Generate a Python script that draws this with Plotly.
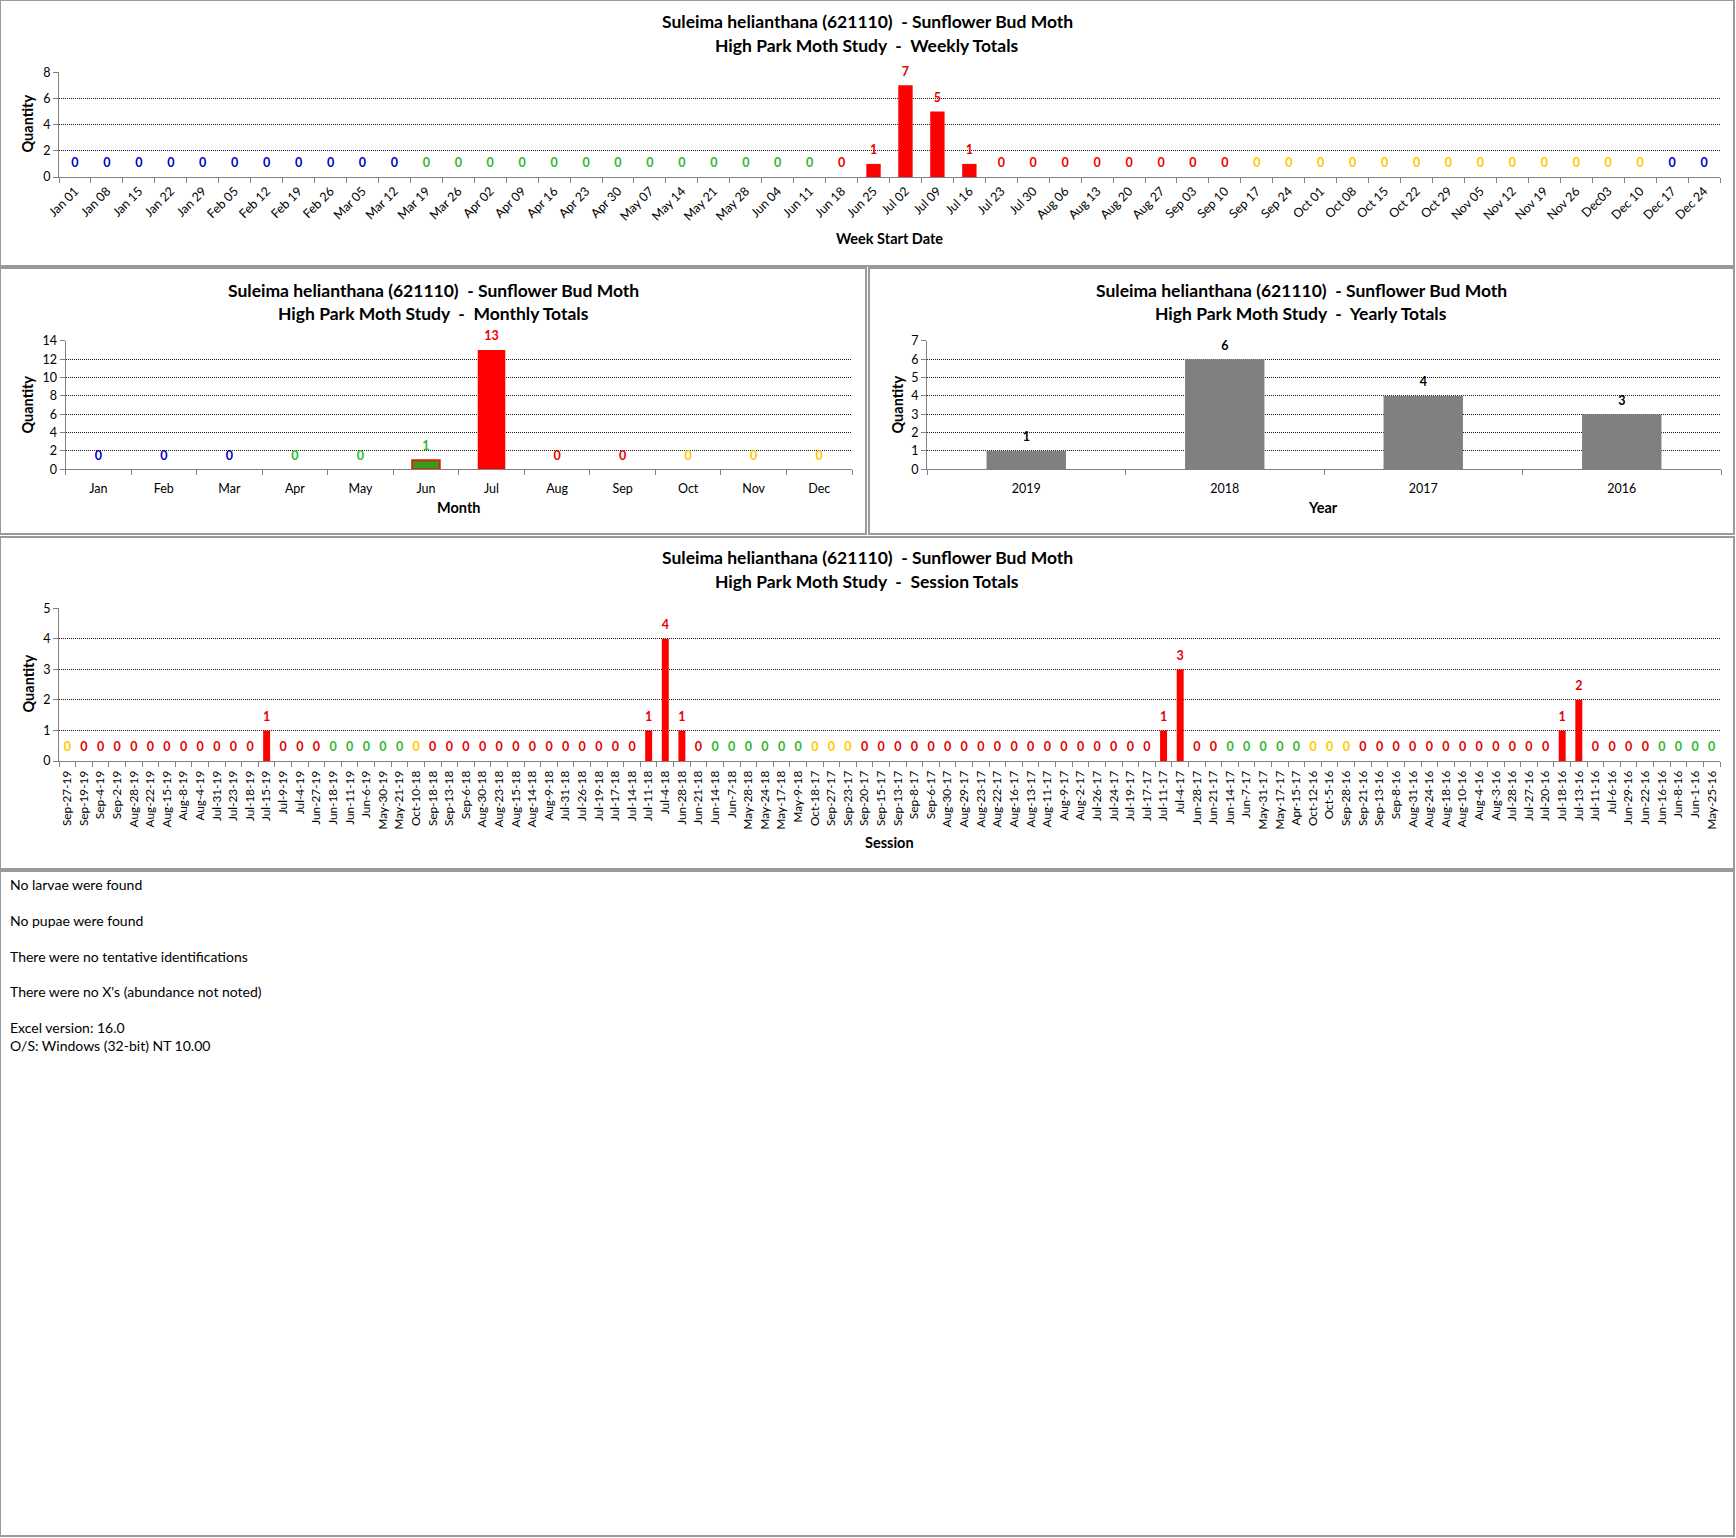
import plotly.graph_objects as go

# page size (the reference screenshot)
W, H = 1736, 1538

title_line1 = "Suleima helianthana (621110)  - Sunflower Bud Moth"
title_weekly = "High Park Moth Study  -  Weekly Totals"
title_monthly = "High Park Moth Study  -  Monthly Totals"
title_yearly = "High Park Moth Study  -  Yearly Totals"
title_session = "High Park Moth Study  -  Session Totals"

# ---------------- data ----------------
week_labels = ["Jan 01", "Jan 08", "Jan 15", "Jan 22", "Jan 29", "Feb 05", "Feb 12", "Feb 19", "Feb 26",
               "Mar 05", "Mar 12", "Mar 19", "Mar 26", "Apr 02", "Apr 09", "Apr 16", "Apr 23", "Apr 30",
               "May 07", "May 14", "May 21", "May 28", "Jun 04", "Jun 11", "Jun 18", "Jun 25", "Jul 02",
               "Jul 09", "Jul 16", "Jul 23", "Jul 30", "Aug 06", "Aug 13", "Aug 20", "Aug 27", "Sep 03",
               "Sep 10", "Sep 17", "Sep 24", "Oct 01", "Oct 08", "Oct 15", "Oct 22", "Oct 29", "Nov 05",
               "Nov 12", "Nov 19", "Nov 26", "Dec03", "Dec 10", "Dec 17", "Dec 24"]
week_values = [0, 0, 0, 0, 0, 0, 0, 0, 0, 0, 0, 0, 0, 0, 0, 0, 0, 0, 0, 0, 0, 0, 0, 0, 0, 1,
               7, 5, 1, 0, 0, 0, 0, 0, 0, 0, 0, 0, 0, 0, 0, 0, 0, 0, 0, 0, 0, 0, 0, 0, 0, 0]
# season code per week: B = winter, G = spring, R = summer, Y = fall
week_season = list("BBBBBBBBBBBGGGGGGGGGGGGGRRRRRRRRRRRRRYYYYYYYYYYYYYBB")

month_labels = ["Jan", "Feb", "Mar", "Apr", "May", "Jun", "Jul", "Aug", "Sep", "Oct", "Nov", "Dec"]
month_values = [0, 0, 0, 0, 0, 1, 13, 0, 0, 0, 0, 0]
month_season = list("BBBGGGRRRYYY")

year_labels = ["2019", "2018", "2017", "2016"]
year_values = [1, 6, 4, 3]

session_labels = [
    "Sep-27-19", "Sep-19-19", "Sep-4-19", "Sep-2-19", "Aug-28-19", "Aug-22-19", "Aug-15-19", "Aug-8-19",
    "Aug-4-19", "Jul-31-19", "Jul-23-19", "Jul-18-19", "Jul-15-19", "Jul-9-19", "Jul-4-19", "Jun-27-19",
    "Jun-18-19", "Jun-11-19", "Jun-6-19", "May-30-19", "May-21-19",
    "Oct-10-18", "Sep-18-18", "Sep-13-18", "Sep-6-18", "Aug-30-18", "Aug-23-18", "Aug-15-18", "Aug-14-18",
    "Aug-9-18", "Jul-31-18", "Jul-26-18", "Jul-19-18", "Jul-17-18", "Jul-14-18", "Jul-11-18", "Jul-4-18",
    "Jun-28-18", "Jun-21-18", "Jun-14-18", "Jun-7-18", "May-28-18", "May-24-18", "May-17-18", "May-9-18",
    "Oct-18-17", "Sep-27-17", "Sep-23-17", "Sep-20-17", "Sep-15-17", "Sep-13-17", "Sep-8-17", "Sep-6-17",
    "Aug-30-17", "Aug-29-17", "Aug-23-17", "Aug-22-17", "Aug-16-17", "Aug-13-17", "Aug-11-17", "Aug-9-17",
    "Aug-2-17", "Jul-26-17", "Jul-24-17", "Jul-19-17", "Jul-17-17", "Jul-11-17", "Jul-4-17", "Jun-28-17",
    "Jun-21-17", "Jun-14-17", "Jun-7-17", "May-31-17", "May-17-17", "Apr-15-17",
    "Oct-12-16", "Oct-5-16", "Sep-28-16", "Sep-21-16", "Sep-13-16", "Sep-8-16", "Aug-31-16", "Aug-24-16",
    "Aug-18-16", "Aug-10-16", "Aug-4-16", "Aug-3-16", "Jul-28-16", "Jul-27-16", "Jul-20-16", "Jul-18-16",
    "Jul-13-16", "Jul-11-16", "Jul-6-16", "Jun-29-16", "Jun-22-16", "Jun-16-16", "Jun-8-16", "Jun-1-16",
    "May-25-16"]
session_values = [
    0, 0, 0, 0, 0, 0, 0, 0, 0, 0, 0, 0, 1, 0, 0, 0, 0, 0, 0, 0, 0,                    # 2019
    0, 0, 0, 0, 0, 0, 0, 0, 0, 0, 0, 0, 0, 0, 1, 4, 1, 0, 0, 0, 0, 0, 0, 0,           # 2018
    0, 0, 0, 0, 0, 0, 0, 0, 0, 0, 0, 0, 0, 0, 0, 0, 0, 0, 0, 0, 0, 1, 3, 0, 0, 0, 0, 0, 0, 0,  # 2017
    0, 0, 0, 0, 0, 0, 0, 0, 0, 0, 0, 0, 0, 0, 0, 1, 2, 0, 0, 0, 0, 0, 0, 0, 0]        # 2016
session_season = list("YRRRRRRRRRRRRRRRGGGGG" "YRRRRRRRRRRRRRRRRRGGGGGG"
                      "YYYRRRRRRRRRRRRRRRRRRRRRRGGGGG" "YYYRRRRRRRRRRRRRRRRRRGGGG")

notes = ["No larvae were found", "No pupae were found", "There were no tentative identifications",
         "There were no X's (abundance not noted)", "Excel version: 16.0", "O/S: Windows (32-bit) NT 10.00"]

# ---------------- styling ----------------
FONT = "Lato"
season_color = {"B": "#0000c8", "G": "#2fb82f", "R": "#e60000", "Y": "#ffc800"}
BAR_RED = "#ff0000"
GREY = "#808080"


def px(x):
    return x / W


def py(y):
    return 1 - y / H


fig = go.Figure()


def add_panel(n, cats, vals, colors, label_colors, width_frac, label_font=12.5):
    xa = "x" if n == 1 else "x%d" % n
    ya = "y" if n == 1 else "y%d" % n
    fig.add_trace(go.Bar(x=cats, y=vals, marker=dict(color=colors, line=dict(width=0)),
                         width=width_frac, xaxis=xa, yaxis=ya, hoverinfo="x+y"))
    fig.add_trace(go.Scatter(x=cats, y=vals, mode="markers+text", text=[str(v) for v in vals],
                             textposition="top center",
                             marker=dict(size=9, color="rgba(0,0,0,0)"),
                             textfont=dict(family=FONT, size=label_font, color=label_colors, weight="bold"),
                             cliponaxis=False, xaxis=xa, yaxis=ya, hoverinfo="skip"))


# weekly
add_panel(1, week_labels, week_values, [BAR_RED] * len(week_values),
          [season_color["R"] if v > 0 else season_color[s] for v, s in zip(week_values, week_season)], 0.45)
# monthly (June bar is shaded green/red in the original)
month_bar_colors = [BAR_RED] * len(month_values)
month_bar_colors[5] = "#3a9a1c"
add_panel(2, month_labels, month_values, month_bar_colors,
          [season_color[s] for s in month_season], 0.42)
fig.data[-2].marker.line = dict(color=["#3a9a1c"] * 5 + ["#d82010"] + [BAR_RED] * 6, width=[0] * 5 + [2] + [0] * 6)
# yearly
add_panel(3, year_labels, year_values, ["#808080"] * 4, ["#000000"] * 4, 0.4)
# session
add_panel(4, session_labels, session_values, [BAR_RED] * len(session_values),
          [season_color["R"] if v > 0 else season_color[s] for v, s in zip(session_values, session_season)],
          0.42)

# plot areas, in page pixels: (left, right, top, bottom)
areas = {1: (59, 1720, 72, 177), 2: (65.5, 852, 340.7, 469.3),
         3: (927, 1721, 340.7, 469.3), 4: (59, 1720, 608, 761)}
yranges = {1: (8, 2), 2: (14, 2), 3: (7, 1), 4: (5, 1)}
tickangles = {1: -45, 2: 0, 3: 0, 4: -90}
standoffs = {1: 1, 2: 8, 3: 8, 4: 4}
ncats = {1: len(week_labels), 2: len(month_labels), 3: len(year_labels), 4: len(session_labels)}

layout = dict(width=W, height=H, margin=dict(l=0, r=0, t=0, b=0, pad=0, autoexpand=False), showlegend=False,
              paper_bgcolor="white", plot_bgcolor="white", bargap=0.55,
              font=dict(family=FONT, size=12, color="#000000"))
for n, (l, r, t, b) in areas.items():
    sfx = "" if n == 1 else str(n)
    top, step = yranges[n]
    layout["xaxis" + sfx] = dict(domain=[px(l), px(r)], anchor="y" + sfx, type="category",
                                 range=[-0.5, ncats[n] - 0.5],
                                 showline=True, linecolor=GREY, linewidth=1,
                                 ticks="outside", tickson="boundaries", ticklen=5, tickcolor=GREY,
                                 tickangle=tickangles[n], showgrid=False, automargin=False,
                                 ticklabelstandoff=standoffs[n],
                                 tickfont=dict(family=FONT, size=12.5 if n != 4 else 11.8, color="#000"),
                                 fixedrange=True)
    layout["yaxis" + sfx] = dict(domain=[py(b), py(t)], anchor="x" + sfx, range=[0, top * 1.002],
                                 tickvals=list(range(0, top + 1, step)),
                                 showline=True, linecolor=GREY, linewidth=1,
                                 ticks="outside", ticklen=5, tickcolor=GREY, automargin=False,
                                 showgrid=True, gridcolor="#1a1a1a", gridwidth=1, griddash="1px,1px",
                                 zeroline=False, tickfont=dict(family=FONT, size=12.5, color="#000"),
                                 fixedrange=True)
fig.update_layout(**layout)

# panel frames
frames = [(0, 1734, 0, 266), (0, 866, 268, 534), (869, 1734, 268, 534), (0, 1734, 537, 869), (0, 1734, 871, 1536)]
for x0, x1, y0, y1 in frames:
    fig.add_shape(type="rect", xref="paper", yref="paper", x0=px(x0), x1=px(x1), y0=py(y0), y1=py(y1),
                  line=dict(color="#9a9a9a", width=2), layer="below")


def text(x, y, s, size, bold=False, angle=0, xanchor="center"):
    fig.add_annotation(xref="paper", yref="paper", x=px(x), y=py(y), text=s, showarrow=False,
                       xanchor=xanchor, yanchor="middle", textangle=angle, borderpad=0,
                       font=dict(family=FONT, size=size, color="#000", weight="bold" if bold else "normal"))


# titles
for cx, y1, y2, sub in [(867, 22, 45, title_weekly), (433, 290.7, 313, title_monthly),
                        (1301, 290.7, 313, title_yearly), (867, 558, 581, title_session)]:
    text(cx, y1, title_line1, 17.5, bold=True)
    text(cx, y2, sub, 17.5, bold=True)

# axis titles
text(889, 239, "Week Start Date", 14.5, bold=True)
text(459, 508, "Month", 14.5, bold=True)
text(1323, 508, "Year", 14.5, bold=True)
text(889, 842, "Session", 14.5, bold=True)
for x, y in [(27.5, 124), (26.6, 405), (896.5, 405), (27.5, 684)]:
    text(x, y, "Quantity", 14.5, bold=True, angle=-90)

# notes at the bottom
for s, y in zip(notes, [884.3, 920.3, 956.3, 991.7, 1027.3, 1045.3]):
    text(9, y, s, 14, xanchor="left")

fig.write_html("out.html", config={"displayModeBar": False},
               post_script="document.documentElement.style.margin='0';document.body.style.margin='0';"
                           "document.body.style.padding='0';document.body.style.overflow='hidden';")
